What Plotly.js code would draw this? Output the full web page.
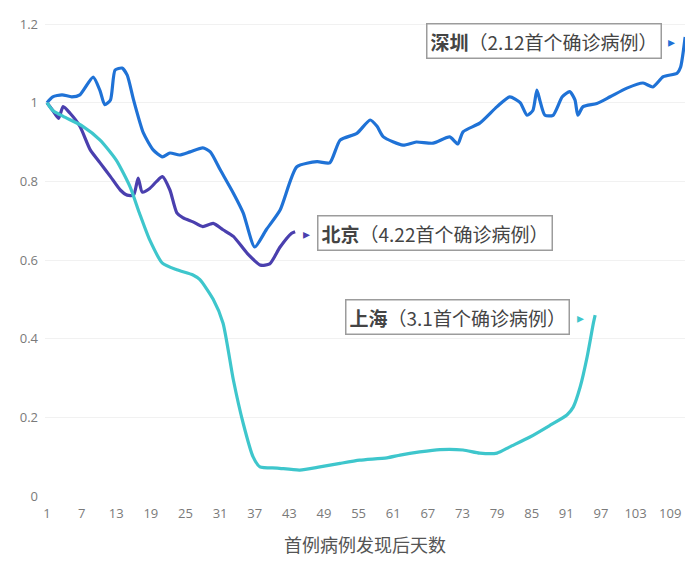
<!DOCTYPE html>
<html>
<head>
<meta charset="utf-8">
<script src="https://cdn.plot.ly/plotly-3.0.1.min.js"></script>
<style>html,body{margin:0;padding:0;background:#fff;}#chart{width:685px;height:563px;}</style>
</head>
<body>
<div id="chart"></div>
<script>
// Days since first confirmed case and relative index values
const szDays = [1,2,3.6,5.3,6.7,9,10.2,11,12,12.8,14,14.9,16,17.7,19.4,21,22.3,24,25.8,28,29.3,31,33.3,35,37,39,41.4,44.3,47.8,50,51.8,54.7,57,58.2,59.3,62.7,65,67.9,70.8,72.2,73.1,76,79,81.2,83,84.2,85.2,85.9,86.4,87.3,88.7,90.3,91.6,92.5,93,93.9,96.3,98.6,101.5,104.3,106,107.8,110.2,110.8,111.6];
const szVals = [1.00,1.015,1.02,1.015,1.02,1.065,1.03,0.995,1.007,1.083,1.088,1.07,1.007,0.923,0.88,0.862,0.872,0.867,0.875,0.885,0.875,0.83,0.77,0.72,0.633,0.677,0.727,0.837,0.85,0.847,0.905,0.922,0.956,0.94,0.913,0.892,0.90,0.897,0.913,0.895,0.926,0.948,0.99,1.015,1.0,0.968,0.98,1.032,1.007,0.968,0.968,1.015,1.028,1.007,0.968,0.99,0.998,1.015,1.037,1.05,1.04,1.066,1.075,1.09,1.167];

const bjDays = [1,2,3,3.8,5,6.7,8.5,10.2,12,13.7,14.9,16,16.8,17.5,18.8,20,21,22.3,23.5,24.6,26.3,28,29.8,31.5,33.3,35.7,38,39.6,41.4,43.4,44];
const bjVals = [1.0,0.98,0.96,0.99,0.973,0.94,0.88,0.847,0.812,0.778,0.765,0.765,0.808,0.773,0.782,0.80,0.812,0.778,0.72,0.707,0.697,0.685,0.693,0.677,0.66,0.617,0.587,0.59,0.633,0.668,0.672];

const shDays = [1,2,3.8,7.2,10.2,13,15.4,17,18.8,21,23.5,26.3,27.5,29.8,31.5,33.3,35,36.7,37.9,40.9,44.8,48.3,51.8,55.2,59.9,62.2,65.6,69.1,73.1,76,79,81.2,84.7,88.2,91.1,92.2,93.4,94.6,95.7,96];
const shVals = [1.0,0.98,0.965,0.94,0.905,0.854,0.786,0.72,0.651,0.592,0.575,0.562,0.55,0.50,0.44,0.295,0.185,0.10,0.074,0.071,0.066,0.074,0.083,0.091,0.097,0.104,0.112,0.118,0.117,0.109,0.109,0.125,0.15,0.18,0.206,0.226,0.277,0.353,0.44,0.46];

const xTicks = [1,7,13,19,25,31,37,43,49,55,61,67,73,79,85,91,97,103,109];
const yTicks = [0,0.2,0.4,0.6,0.8,1,1.2];
const yTickText = ['0','0.2','0.4','0.6','0.8','1','1.2'];

const seriesNames = ['深圳','北京','上海'];
const labelTexts = ['<b>深圳</b>（2.12首个确诊病例）','<b>北京</b>（4.22首个确诊病例）','<b>上海</b>（3.1首个确诊病例）'];
const colors = ['#1f72d6','#4a3fae','#3ec6cc'];

const font = '"Noto Sans CJK SC", "Noto Sans", sans-serif';

const traces = [
  {x: szDays, y: szVals, name: seriesNames[0], type:'scatter', mode:'lines', line:{color:colors[0], width:3.2, shape:'spline', smoothing:0.6}},
  {x: bjDays, y: bjVals, name: seriesNames[1], type:'scatter', mode:'lines', line:{color:colors[1], width:3.2, shape:'spline', smoothing:0.6}},
  {x: shDays, y: shVals, name: seriesNames[2], type:'scatter', mode:'lines', line:{color:colors[2], width:3.2, shape:'spline', smoothing:0.6}}
];

function box(text, x, y, anchor){
  return {text:text, x:x, y:y, xref:'x', yref:'y', xanchor:anchor, yanchor:'middle', showarrow:false,
    font:{family:font, size:19, color:'#444'}, bgcolor:'#ffffff', bordercolor:'#9c9c9c', borderwidth:1.5, borderpad:3};
}
function tri(color, x, y){
  return {text:'▸', x:x, y:y, xref:'x', yref:'y', showarrow:false, font:{size:14, color:color}};
}

const layout = {
  width:685, height:563,
  margin:{l:45, r:0, t:16, b:67},
  paper_bgcolor:'#ffffff', plot_bgcolor:'#ffffff',
  showlegend:false,
  font:{family:font},
  xaxis:{
    range:[0.653, 111.57], tickvals:xTicks, ticktext:xTicks.map(String),
    showgrid:false, zeroline:false, showline:false, ticks:'',
    tickfont:{family:'"Open Sans", sans-serif', size:13, color:'#7a7a7a'}, ticklabelstandoff:8,
    title:{text:'首例病例发现后天数', font:{family:font, size:18, color:'#555'}, standoff:18},
    automargin:false
  },
  yaxis:{
    range:[0, 1.2204], tickvals:yTicks, ticktext:yTickText,
    showgrid:true, gridcolor:'#f1f1f1', gridwidth:1, zeroline:false, showline:false, ticks:'',
    tickfont:{family:'"Open Sans", sans-serif', size:13, color:'#7a7a7a'}, ticklabelstandoff:6, automargin:false
  },
  annotations:[
    box(labelTexts[0], 107.6, 1.157, 'right'),
    box(labelTexts[1], 47.8, 0.669, 'left'),
    box(labelTexts[2], 91.6, 0.455, 'right'),
    tri(colors[0], 109.3, 1.157),
    tri(colors[1], 45.9, 0.669),
    tri(colors[2], 93.4, 0.455)
  ]
};

Plotly.newPlot('chart', traces, layout, {displayModeBar:false, staticPlot:true});
</script>
</body>
</html>
